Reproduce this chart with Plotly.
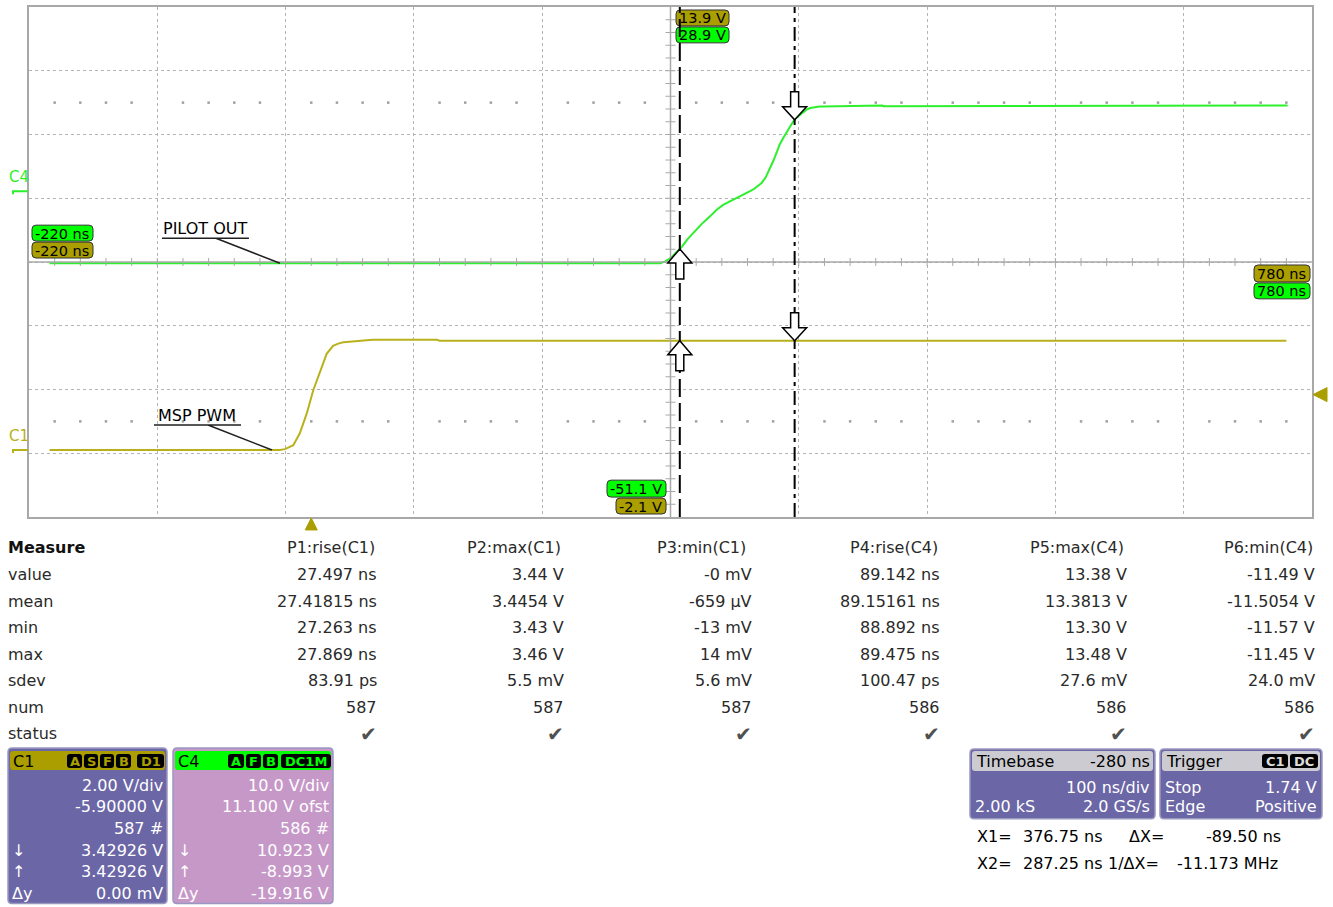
import numpy as np
import plotly.graph_objects as go

# ---------------- data ----------------
time_range_ns = [-220, 780]
time_per_div_ns = 100
c1_volts_per_div = 2.0
c1_offset_v = -5.9
c4_volts_per_div = 10.0
c4_offset_v = 11.1
cursor1_ns = 376.75
cursor2_ns = 287.25
trigger_time_ns = 0.0
trigger_level_v = 1.74

c1_time_ns = [-204, -24.5, -20.5, -14, -9, -3.5, 1.5, 7, 12, 17, 21, 25, 30, 48, 98, 100, 760]
c1_volts = [0.0, 0.0, 0.03, 0.15, 0.52, 1.15, 1.87, 2.49, 3.02, 3.27, 3.34, 3.38, 3.40, 3.46, 3.46, 3.43, 3.43]

c4_time_ns = [-204, 272, 276, 280, 284, 289, 293, 297.5, 304, 311, 316, 321, 326, 332, 337, 342, 345,
              348, 351, 354, 357, 360, 363, 365, 368, 371, 373, 375.5, 378, 381, 384, 386, 389,
              392, 396, 399, 418, 420, 445, 446, 457, 459, 761]
c4_volts = [-11.3, -11.3, -11.0, -10.5, -9.7, -8.7, -7.6, -6.6, -5.2, -3.9, -2.9, -2.15, -1.65, -1.1, -0.6, 0.0, 0.35,
            0.8, 1.3, 2.1, 3.3, 4.7, 6.2, 7.3, 8.4, 9.4, 10.1, 10.9, 11.5, 12.0, 12.5, 12.8, 13.05,
            13.2, 13.3, 13.3, 13.35, 13.45, 13.45, 13.35, 13.35, 13.45, 13.45]

measure_params = ["P1:rise(C1)", "P2:max(C1)", "P3:min(C1)", "P4:rise(C4)", "P5:max(C4)", "P6:min(C4)"]
measure_rows = ["value", "mean", "min", "max", "sdev", "num", "status"]
p_value = ["27.497 ns", "3.44 V", "-0 mV", "89.142 ns", "13.38 V", "-11.49 V"]
p_mean = ["27.41815 ns", "3.4454 V", "-659 µV", "89.15161 ns", "13.3813 V", "-11.5054 V"]
p_min = ["27.263 ns", "3.43 V", "-13 mV", "88.892 ns", "13.30 V", "-11.57 V"]
p_max = ["27.869 ns", "3.46 V", "14 mV", "89.475 ns", "13.48 V", "-11.45 V"]
p_sdev = ["83.91 ps", "5.5 mV", "5.6 mV", "100.47 ps", "27.6 mV", "24.0 mV"]
p_num = ["587", "587", "587", "586", "586", "586"]
p_status = ["\u2714"] * 6

c1_badges = ["A", "S", "F", "B", "D1"]
c1_panel = ["2.00 V/div", "-5.90000 V", "587 #", "3.42926 V", "3.42926 V", "0.00 mV"]
c4_badges = ["A", "F", "B", "DC1M"]
c4_panel = ["10.0 V/div", "11.100 V ofst", "586 #", "10.923 V", "-8.993 V", "-19.916 V"]
panel_symbols = ["", "", "", "\u2193", "\u2191", "\u0394y"]
timebase_panel = ["-280 ns", "100 ns/div", "2.00 kS", "2.0 GS/s"]
trigger_badges = ["C1", "DC"]
trigger_panel = ["Stop", "1.74 V", "Edge", "Positive"]
cursor_readout = ["376.75 ns", "287.25 ns", "-89.50 ns", "-11.173 MHz"]

# ---------------- styling ----------------
FONT = "DejaVu Sans"
GREEN = "#2cf02c"
GREEN_TAG = "#00ff00"
OLIVE = "#b9b11c"
OLIVE_TAG = "#aa9e00"
PURPLE = "#6b66a6"
ORCHID = "#c698c8"
HDR_GRAY = "#cbcbd1"
GRID = "#b4b4b4"
TXT = "#2a2a2a"

L, T, W, H = 29, 5, 1283, 512
FIG_W, FIG_H = 1333, 907

def X(px):
    return (px - L) / W

def Y(py):
    return (T + H - py) / H

def rr(x0, y0, x1, y1, r):
    return (f"M{X(x0+r)},{Y(y0)} L{X(x1-r)},{Y(y0)} Q{X(x1)},{Y(y0)} {X(x1)},{Y(y0+r)} "
            f"L{X(x1)},{Y(y1-r)} Q{X(x1)},{Y(y1)} {X(x1-r)},{Y(y1)} L{X(x0+r)},{Y(y1)} "
            f"Q{X(x0)},{Y(y1)} {X(x0)},{Y(y1-r)} L{X(x0)},{Y(y0+r)} Q{X(x0)},{Y(y0)} {X(x0+r)},{Y(y0)} Z")

c1_range = [-4 * c1_volts_per_div - c1_offset_v, 4 * c1_volts_per_div - c1_offset_v]
c4_range = [-4 * c4_volts_per_div - c4_offset_v, 4 * c4_volts_per_div - c4_offset_v]
t_center = (time_range_ns[0] + time_range_ns[1]) / 2

shapes = []
annotations = []

def add_text(px, py, s, anchor="left", size=16, color=TXT, bold=False):
    annotations.append(dict(
        xref="paper", yref="paper", x=X(px), y=Y(py), text=s, showarrow=False,
        xanchor=anchor, yanchor="middle", borderpad=0,
        font=dict(family=FONT, size=size, color=color, weight="bold" if bold else "normal")))

def add_rr(x0, y0, x1, y1, r, fill, line="rgba(0,0,0,0)", lw=1):
    shapes.append(dict(type="path", xref="paper", yref="paper", path=rr(x0, y0, x1, y1, r),
                       fillcolor=fill, line=dict(color=line, width=lw), layer="above"))

fig = go.Figure()

# sparse dot rows at +/-2.5 div
dot_t = [t for t in range(time_range_ns[0] + 20, time_range_ns[1], 20)
         if (t - time_range_ns[0]) % time_per_div_ns != 0]
for d in (2.5, -2.5):
    v = d * c1_volts_per_div - c1_offset_v
    fig.add_trace(go.Scatter(x=dot_t, y=[v] * len(dot_t), mode="markers", hoverinfo="skip",
                             marker=dict(size=2.5, color="#a0a0a0", symbol="square"),
                             showlegend=False))

fig.add_trace(go.Scatter(x=c1_time_ns, y=c1_volts, mode="lines", yaxis="y",
                         line=dict(color=OLIVE, width=2), showlegend=False, name="C1"))
fig.add_trace(go.Scatter(x=c4_time_ns, y=c4_volts, mode="lines", yaxis="y2",
                         line=dict(color=GREEN, width=2), showlegend=False, name="C4"))

# center cross lines with ticks
shapes.append(dict(type="line", xref="x", yref="paper", x0=t_center, x1=t_center, y0=0, y1=1,
                   line=dict(color="#a8a8a8", width=1.5)))
shapes.append(dict(type="line", xref="paper", yref="paper", x0=0, x1=1, y0=0.5, y1=0.5,
                   line=dict(color="#a8a8a8", width=1.5)))
cx = L + W / 2
cy = T + H / 2
p = ""
for i in range(1, 40):
    yy = T + i * H / 40
    p += f"M{X(cx-5)},{Y(yy)} L{X(cx+5)},{Y(yy)} "
for i in range(1, 50):
    xx = L + i * W / 50
    p += f"M{X(xx)},{Y(cy-4)} L{X(xx)},{Y(cy+4)} "
shapes.append(dict(type="path", xref="paper", yref="paper", path=p,
                   line=dict(color="#a8a8a8", width=1)))

# cursor tags
def tag(x0, y0, x1, y1, fill, s):
    add_rr(x0, y0, x1, y1, 4, fill, line="#333333", lw=1)
    add_text(x0 + 2, (y0 + y1) / 2 + 0.5, s, size=14.5, color="#000000")

tag(32, 224, 93, 240, GREEN_TAG, f"{time_range_ns[0]} ns")
tag(32, 241, 93, 257, OLIVE_TAG, f"{time_range_ns[0]} ns")
tag(1254, 264, 1310, 281, OLIVE_TAG, f"{time_range_ns[1]} ns")
tag(1254, 282, 1310, 298, GREEN_TAG, f"{time_range_ns[1]} ns")
tag(676, 8, 729, 24, OLIVE_TAG, f"{c1_range[1]:.1f} V")
tag(676, 25, 729, 41, GREEN_TAG, f"{c4_range[1]:.1f} V")
tag(607, 480, 666, 497, GREEN_TAG, f"{c4_range[0]:.1f} V")
tag(616, 498, 666, 514, OLIVE_TAG, f"{c1_range[0]:.1f} V")

# cursor lines
shapes.append(dict(type="line", xref="x", yref="paper", x0=cursor2_ns, x1=cursor2_ns, y0=0, y1=1,
                   line=dict(color="#000000", width=2, dash="18px,6px")))
shapes.append(dict(type="line", xref="x", yref="paper", x0=cursor1_ns, x1=cursor1_ns, y0=0, y1=1,
                   line=dict(color="#000000", width=2, dash="14px,5px,4px,5px")))

# cursor arrows
up_path = "M0,0 L12,-14 L4,-14 L4,-30 L-4,-30 L-4,-14 L-12,-14 Z"
down_path = "M0,0 L12,13 L4,13 L4,28 L-4,28 L-4,13 L-12,13 Z"
for cur, path in ((cursor2_ns, up_path), (cursor1_ns, down_path)):
    for tt, vv, yr in ((c4_time_ns, c4_volts, "y2"), (c1_time_ns, c1_volts, "y")):
        shapes.append(dict(type="path", xref="x", yref=yr, xsizemode="pixel", ysizemode="pixel",
                           xanchor=cur, yanchor=float(np.interp(cur, tt, vv)), path=path,
                           fillcolor="#ffffff", line=dict(color="#000000", width=1.5)))

# trace labels with leader lines
lead_path = "M-118,25 L-31,25 M-64,25 L0,0"
for label, t0, v0, yr in (("PILOT OUT", -24.4, c4_volts[0], "y2"), ("MSP PWM", -30.6, c1_volts[0], "y")):
    shapes.append(dict(type="path", xref="x", yref=yr, xsizemode="pixel", ysizemode="pixel",
                       xanchor=t0, yanchor=v0, path=lead_path,
                       line=dict(color="#202020", width=1.5)))
    annotations.append(dict(xref="x", yref=yr, x=t0, y=v0, xshift=-75, yshift=35, text=label,
                            showarrow=False, xanchor="center", yanchor="middle",
                            font=dict(family=FONT, size=16, color="#000000")))

# channel markers at left
for name, col, yr in (("C4", GREEN, "y2"), ("C1", OLIVE, "y")):
    zero_v = 0.0
    shapes.append(dict(type="path", xref="paper", yref=yr, ysizemode="pixel", yanchor=zero_v,
                       path=f"M{X(13)},-3 L{X(13)},0 L{X(28)},0",
                       line=dict(color=col, width=2)))
    annotations.append(dict(xref="paper", yref=yr, x=X(7), y=zero_v, yshift=14, text=name,
                            showarrow=False, xanchor="left", yanchor="middle",
                            font=dict(family=FONT, size=15, color=col)))

# trigger markers
shapes.append(dict(type="path", xref="x", yref="paper", xsizemode="pixel", xanchor=trigger_time_ns,
                   path=f"M0,{Y(518)} L6,{Y(530)} L-6,{Y(530)} Z", fillcolor=OLIVE_TAG,
                   line=dict(color=OLIVE_TAG, width=1)))
shapes.append(dict(type="path", xref="paper", yref="y", ysizemode="pixel", yanchor=trigger_level_v,
                   path=f"M{X(1313)},0 L{X(1327)},7 L{X(1327)},-7 Z", fillcolor=OLIVE_TAG,
                   line=dict(color=OLIVE_TAG, width=1)))

# measurement table
hdr_y = 548
row_ys = [575, 601.5, 628, 655, 681.5, 708, 734.5]
head_right = [376, 562, 747, 939, 1125, 1314]
val_right = [378, 565, 753, 941, 1128, 1316]
add_text(7, hdr_y, "Measure", bold=True, color="#111111")
for i, h in enumerate(measure_params):
    add_text(head_right[i], hdr_y, h, anchor="right")
table_rows = [p_value, p_mean, p_min, p_max, p_sdev, p_num, p_status]
for r, (lab, vals) in enumerate(zip(measure_rows, table_rows)):
    add_text(7, row_ys[r], lab)
    for i, v in enumerate(vals):
        if lab == "status":
            add_text(val_right[i], row_ys[r], v, anchor="right", size=20, color="#505050")
        else:
            add_text(val_right[i], row_ys[r], v, anchor="right")

# channel panels
panel_rows = [787, 808, 829.5, 852, 873, 895]
def channel_panel(x0, x1, body, hdr, name, badges, badge_boxes, badge_col, vals, sym_x):
    add_rr(x0, 749, x1, 905, 4, body, line="#9a98c0", lw=1.5)
    add_rr(x0 + 2, 752, x1 - 2, 771, 3, hdr)
    add_text(x0 + 4, 762, name, size=16, color="#000000")
    for (bx0, bx1), b in zip(badge_boxes, badges):
        add_rr(bx0, 755, bx1, 769, 3, "#000000")
        add_text((bx0 + bx1) / 2, 762.5, b, anchor="center", size=13, color=badge_col, bold=True)
    for yy, s, sym in zip(panel_rows, vals, panel_symbols):
        add_text(x1 - 3, yy, s, anchor="right", color="#ffffff")
        if sym:
            add_text(sym_x, yy, sym, color="#ffffff")

channel_panel(8, 167, PURPLE, OLIVE_TAG, "C1", c1_badges,
              [(67, 82), (84, 98), (100, 114), (116, 131), (137, 164)], OLIVE_TAG, c1_panel, 11)
channel_panel(173, 333, ORCHID, GREEN_TAG, "C4", c4_badges,
              [(228, 244), (246, 261), (263, 278), (281, 331)], GREEN_TAG, c4_panel, 177)

# timebase panel
add_rr(970, 750, 1155, 820, 4, PURPLE, line="#9a98c0", lw=1.5)
add_rr(972, 752, 1153, 772, 3, HDR_GRAY)
add_text(975, 762, "Timebase", color="#000000")
add_text(1151, 762, timebase_panel[0], anchor="right", color="#000000")
add_text(1151, 789, timebase_panel[1], anchor="right", color="#ffffff")
add_text(974, 808, timebase_panel[2], color="#ffffff")
add_text(1151, 808, timebase_panel[3], anchor="right", color="#ffffff")

# trigger panel
add_rr(1160, 750, 1322, 820, 4, PURPLE, line="#9a98c0", lw=1.5)
add_rr(1162, 752, 1320, 772, 3, HDR_GRAY)
add_text(1165, 762, "Trigger", color="#000000")
for (bx0, bx1), b in zip([(1262, 1288), (1290, 1318)], trigger_badges):
    add_rr(bx0, 755, bx1, 769, 3, "#000000")
    add_text((bx0 + bx1) / 2, 762.5, b, anchor="center", size=13, color="#dddddd", bold=True)
add_text(1164, 789, trigger_panel[0], color="#ffffff")
add_text(1318, 789, trigger_panel[1], anchor="right", color="#ffffff")
add_text(1164, 808, trigger_panel[2], color="#ffffff")
add_text(1318, 808, trigger_panel[3], anchor="right", color="#ffffff")

# cursor readout
add_text(976, 838, "X1=", color="#000000")
add_text(1022, 838, cursor_readout[0], color="#000000")
add_text(1128, 838, "\u0394X=", color="#000000")
add_text(1282, 838, cursor_readout[2], anchor="right", color="#000000")
add_text(976, 865, "X2=", color="#000000")
add_text(1022, 865, cursor_readout[1], color="#000000")
add_text(1107, 865, "1/\u0394X=", color="#000000")
add_text(1279, 865, cursor_readout[3], anchor="right", color="#000000")

axis_common = dict(showticklabels=False, ticks="", zeroline=False, fixedrange=True)
fig.update_layout(
    width=FIG_W, height=FIG_H,
    margin=dict(l=L, r=FIG_W - L - W, t=T, b=FIG_H - T - H, pad=0),
    paper_bgcolor="#ffffff", plot_bgcolor="#ffffff",
    showlegend=False,
    xaxis=dict(range=time_range_ns, tick0=time_range_ns[0], dtick=time_per_div_ns,
               showgrid=True, gridcolor=GRID, griddash="dot", gridwidth=1,
               showline=True, mirror=True, linecolor="#a8a8a8", linewidth=2, **axis_common),
    yaxis=dict(range=c1_range, tick0=c1_range[0], dtick=c1_volts_per_div,
               showgrid=True, gridcolor=GRID, griddash="dot", gridwidth=1,
               showline=True, mirror=True, linecolor="#a8a8a8", linewidth=2, **axis_common),
    yaxis2=dict(range=c4_range, overlaying="y", showgrid=False, showline=False, **axis_common),
    shapes=shapes,
    annotations=annotations,
)

fig.write_html("out.html", config={"displayModeBar": False},
               post_script="document.body.style.margin='0';document.body.style.overflow='hidden';")
